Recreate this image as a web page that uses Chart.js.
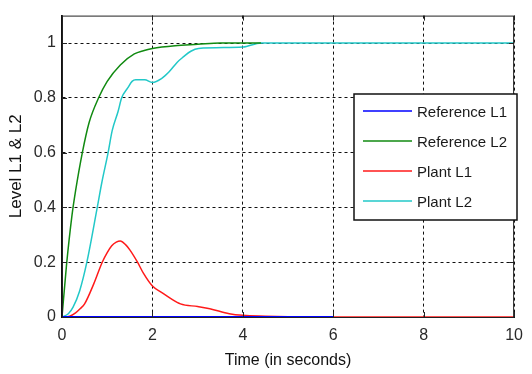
<!DOCTYPE html>
<html>
<head>
<meta charset="utf-8">
<script src="https://cdn.jsdelivr.net/npm/chart.js@4.4.1/dist/chart.umd.min.js"></script>
<style>
  html, body { margin: 0; padding: 0; background: #fff; }
  #wrap { width: 532px; height: 374px; }
</style>
</head>
<body>
<div id="wrap"><canvas id="levelChart"></canvas></div>
<script>
// Level response data
const seriesNames = ['Reference L1', 'Reference L2', 'Plant L1', 'Plant L2'];

const refL1Time = [0, 6];
const refL1 = [0, 0];

const refL2Time = [0, 0.1, 0.22, 0.3, 0.45, 0.6, 0.81, 1.0, 1.29, 1.6, 1.8, 2.0, 2.5, 3.0, 3.5, 4.4];
const refL2 = [0, 0.19, 0.37, 0.46, 0.6, 0.71, 0.8, 0.86, 0.92, 0.96, 0.972, 0.98, 0.99, 0.995, 1.0, 1.0];

const plantL1Time = [0, 0.17, 0.3, 0.4, 0.5, 0.7, 0.89, 1.0, 1.1, 1.2, 1.29, 1.4, 1.5, 1.67, 1.8, 2.0, 2.2, 2.4, 2.62, 3.0, 3.27, 3.7, 4.0, 4.5, 5.0, 6.0, 10];
const plantL1 = [0, 0.003, 0.015, 0.03, 0.048, 0.12, 0.2, 0.235, 0.26, 0.273, 0.277, 0.265, 0.245, 0.2, 0.16, 0.113, 0.09, 0.068, 0.048, 0.038, 0.03, 0.012, 0.006, 0.003, 0.001, 0, 0];

const plantL2Time = [0, 0.14, 0.245, 0.39, 0.55, 0.78, 0.88, 1.02, 1.11, 1.24, 1.32, 1.45, 1.55, 1.63, 1.83, 2.0, 2.2, 2.37, 2.55, 2.69, 2.85, 3.02, 4.0, 4.4, 10];
const plantL2 = [0, 0.012, 0.036, 0.095, 0.2, 0.4, 0.49, 0.6, 0.68, 0.75, 0.8, 0.835, 0.86, 0.866, 0.866, 0.856, 0.87, 0.895, 0.93, 0.95, 0.97, 0.98, 0.985, 1.0, 1.0];

const xTicks = [0, 2, 4, 6, 8, 10];
const yTicks = [0, 0.2, 0.4, 0.6, 0.8, 1];

const colors = ['#0000ff', '#118a11', '#ff1a1a', '#22c8c8'];
const widths = [2, 1.5, 1.5, 1.5];

function toPoints(xs, ys) {
  return xs.map((x, i) => ({ x: x, y: ys[i] }));
}

const FONT = '"Liberation Sans", Arial, sans-serif';
const tickFont = { family: FONT, size: 16 };

// box around the plot + MATLAB-style legend
const framePlugin = {
  id: 'frame',
  afterDraw(chart) {
    const ctx = chart.ctx;
    const a = chart.chartArea;
    ctx.save();
    ctx.strokeStyle = '#222';
    ctx.lineWidth = 1;
    ctx.strokeRect(a.left + 0.5, a.top + 0.5, a.right - a.left - 1, a.bottom - a.top);

    // small inward tick marks
    const xs = chart.scales.x, ys = chart.scales.y;
    ctx.beginPath();
    xTicks.forEach(v => {
      const px = Math.round(xs.getPixelForValue(v)) + 0.5;
      ctx.moveTo(px, a.top); ctx.lineTo(px, a.top + 5);
      ctx.moveTo(px, a.bottom); ctx.lineTo(px, a.bottom - 5);
    });
    yTicks.forEach(v => {
      const py = Math.round(ys.getPixelForValue(v)) + 0.5;
      ctx.moveTo(a.left, py); ctx.lineTo(a.left + 5, py);
      ctx.moveTo(a.right, py); ctx.lineTo(a.right - 5, py);
    });
    ctx.stroke();

    // legend
    const lx = 354, ly = 94, lw = 163, lh = 126;
    ctx.fillStyle = '#fff';
    ctx.fillRect(lx, ly, lw, lh);
    ctx.strokeStyle = '#111';
    ctx.lineWidth = 1.5;
    ctx.strokeRect(lx, ly, lw, lh);
    ctx.font = '15px ' + FONT;
    ctx.textBaseline = 'middle';
    ctx.textAlign = 'left';
    chart.data.datasets.forEach((ds, i) => {
      const y = 111 + i * 30;
      ctx.strokeStyle = ds.borderColor;
      ctx.lineWidth = 1.5;
      ctx.beginPath();
      ctx.moveTo(363, y);
      ctx.lineTo(412, y);
      ctx.stroke();
      ctx.fillStyle = '#1a1a1a';
      ctx.fillText(ds.label, 417, y + 2);
    });
    ctx.restore();
  }
};

const ctx = document.getElementById('levelChart').getContext('2d');

new Chart(ctx, {
  type: 'line',
  data: {
    datasets: [
      { label: seriesNames[0], data: toPoints(refL1Time, refL1) },
      { label: seriesNames[1], data: toPoints(refL2Time, refL2) },
      { label: seriesNames[2], data: toPoints(plantL1Time, plantL1) },
      { label: seriesNames[3], data: toPoints(plantL2Time, plantL2) }
    ].map((ds, i) => Object.assign(ds, {
      borderColor: colors[i],
      backgroundColor: colors[i],
      borderWidth: widths[i],
      pointRadius: 0,
      cubicInterpolationMode: 'monotone',
      fill: false
    }))
  },
  options: {
    responsive: true,
    maintainAspectRatio: false,
    animation: false,
    layout: { padding: { left: 0, top: 10, right: 7, bottom: 0 } },
    plugins: {
      legend: { display: false },
      tooltip: { enabled: false }
    },
    scales: {
      x: {
        type: 'linear',
        min: 0,
        max: 10,
        afterBuildTicks: axis => { axis.ticks = xTicks.map(v => ({ value: v })); },
        afterFit: axis => { axis.height = 57; },
        grid: {
          color: '#111',
          lineWidth: 1,
          drawTicks: false
        },
        border: { color: '#111', width: 1, dash: [3, 3] },
        ticks: {
          color: '#2a2a2a',
          font: tickFont,
          padding: 9,
          maxRotation: 0,
          callback: v => String(v)
        },
        title: {
          display: true,
          text: 'Time (in seconds)',
          color: '#111',
          font: { family: FONT, size: 16 },
          padding: { top: 0, bottom: 4 }
        }
      },
      y: {
        type: 'linear',
        min: 0,
        max: 1.1,
        afterBuildTicks: axis => { axis.ticks = yTicks.map(v => ({ value: v })); },
        afterFit: axis => { axis.width = 62; },
        grid: {
          color: '#111',
          lineWidth: 1,
          drawTicks: false
        },
        border: { color: '#111', width: 1.5, dash: [3, 3] },
        ticks: {
          color: '#2a2a2a',
          font: tickFont,
          padding: 6,
          callback: v => String(Math.round(v * 10) / 10)
        },
        title: {
          display: true,
          text: 'Level L1 & L2',
          color: '#111',
          font: { family: FONT, size: 17 },
          padding: { top: 6, bottom: 0 }
        }
      }
    }
  },
  plugins: [framePlugin]
});
</script>
</body>
</html>
